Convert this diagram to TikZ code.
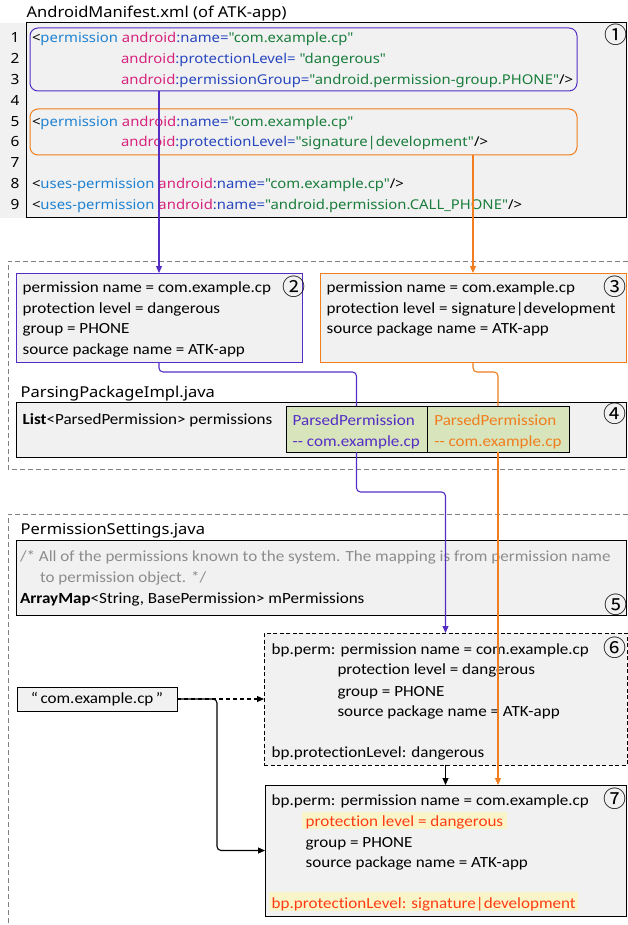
\documentclass[tikz,border=0pt]{standalone}
\usepackage{fontspec}
\setmainfont{Carlito}[FakeStretch=1.1, Ligatures=NoCommon]
\newfontfamily\codef{Noto Sans}[FakeStretch=1.1]
\newfontfamily\symf{Noto Sans CJK JP}
\usetikzlibrary{arrows.meta}
\definecolor{purp}{RGB}{84,46,196}
\definecolor{orng}{RGB}{240,125,30}
\definecolor{kwblue}{RGB}{30,130,210}
\definecolor{attrblue}{RGB}{40,70,190}
\definecolor{andmag}{RGB}{215,35,125}
\definecolor{valgreen}{RGB}{25,125,60}
\definecolor{redtxt}{RGB}{255,60,20}
\definecolor{hl}{RGB}{250,245,200}
\definecolor{greenfill}{RGB}{216,228,188}
\definecolor{boxgray}{RGB}{241,241,241}
\definecolor{dashgray}{RGB}{128,128,128}
\definecolor{cmtgray}{RGB}{140,140,140}
\newcommand\kwc[1]{\textcolor{kwblue}{#1}}
\newcommand\anc[1]{\textcolor{andmag}{#1}}
\newcommand\atc[1]{\textcolor{attrblue}{#1}}
\newcommand\vlc[1]{\textcolor{valgreen}{#1}}
\begin{document}
\begin{tikzpicture}[x=1pt,y=-1pt,
  font=\fontsize{15.5}{19}\selectfont,
  t/.style={anchor=base west, inner sep=0pt, outer sep=0pt},
  code/.style={t, font=\codef\fontsize{13.5}{16}\selectfont},
  lnum/.style={anchor=base, inner sep=0pt, font=\codef\bfseries\fontsize{14}{16}\selectfont},
  title/.style={t, font=\codef\fontsize{15}{18}\selectfont},
  circ/.style={anchor=center, inner sep=0pt, font=\symf\fontsize{23}{23}\selectfont},
  box/.style={draw=black, fill=boxgray, line width=1pt, inner sep=0pt, outer sep=0pt, anchor=north west},
  rbox/.style={draw, line width=1pt, rounded corners=8pt, inner sep=0pt, outer sep=0pt, anchor=north west},
  region/.style={draw=dashgray, line width=1pt, dash pattern=on 5pt off 3pt},
  conn/.style={line width=1.1pt},
  tip/.style={-{Triangle[length=7pt,width=6pt]}},
  hlt/.style={t, fill=hl}
]
\useasboundingbox (0,0) rectangle (628,925);

% ---------- manifest ----------
\node[title] (ttl1) at (26.7,17.5) {AndroidManifest.xml (of ATK-app)};
\node[box, draw=none, minimum width=26, minimum height=195] (lnbg) at (0,23) {};
\node[box, minimum width=600, minimum height=195] (code) at (26,23) {};
\node[rbox, draw=purp, minimum width=547, minimum height=63] (pblue) at (30,28) {};
\node[rbox, draw=orng, minimum width=547, minimum height=46] (porng) at (30,109) {};
\node[circ] (k1) at (615.5,35) {①};

\node[lnum] (n1) at (15,43) {1};
\node[lnum] (n2) at (15,63.8) {2};
\node[lnum] (n3) at (15,84.6) {3};
\node[lnum] (n4) at (15,105.4) {4};
\node[lnum] (n5) at (15,126.2) {5};
\node[lnum] (n6) at (15,147) {6};
\node[lnum] (n7) at (15,167.8) {7};
\node[lnum] (n8) at (15,188.6) {8};
\node[lnum] (n9) at (15,209.4) {9};

\node[code] (c1) at (32,43) {<\kwc{permission} \anc{android}\atc{:name=}\vlc{"com.example.cp"}};
\node[code] (c2) at (121,63.8) {\anc{android}\atc{:protectionLevel=} \vlc{"dangerous"}};
\node[code] (c3) at (121,84.6) {\anc{android}\atc{:permissionGroup=}\vlc{"android.permission-group.PHONE"}/>};
\node[code] (c5) at (32,126.2) {<\kwc{permission} \anc{android}\atc{:name=}\vlc{"com.example.cp"}};
\node[code] (c6) at (121,147) {\anc{android}\atc{:protectionLevel=}\vlc{"signature|development"}/>};
\node[code] (c8) at (32,188.6) {<\kwc{uses-permission} \anc{android}\atc{:name=}\vlc{"com.example.cp"}/>};
\node[code] (c9) at (32,209.4) {<\kwc{uses-permission} \anc{android}\atc{:name=}\vlc{"android.permission.CALL\_PHONE"}/>};

% ---------- parsing region ----------
\draw[region] (628,261) -- (8,261) -- (8,469) -- (628,469);
\node[box, draw=purp, minimum width=286, minimum height=89] (b2) at (16,273) {};
\node[box, draw=orng, minimum width=306, minimum height=89] (b3) at (320,273) {};
\node[circ] (k2) at (293.5,286.5) {②};
\node[circ] (k3) at (615,287) {③};
\node[t] (b2a) at (22.7,292.5) {permission name = com.example.cp};
\node[t] (b2b) at (22.7,313) {protection level = dangerous};
\node[t] (b2c) at (22.7,333.5) {group = PHONE};
\node[t] (b2d) at (22.7,354) {source package name = ATK-app};
\node[t] (b3a) at (326.7,292.5) {permission name = com.example.cp};
\node[t] (b3b) at (326.7,313) {protection level = signature|development};
\node[t] (b3c) at (326.7,333.5) {source package name = ATK-app};

\node[title] (ttl2) at (20.7,397) {ParsingPackageImpl.java};
\node[box, minimum width=610, minimum height=55] (b4) at (16,402) {};
\node[box, fill=greenfill, minimum width=141, minimum height=46] (g1) at (286,406) {};
\node[box, fill=greenfill, minimum width=142, minimum height=46] (g2) at (427,406) {};
\node[circ] (k4) at (615,414) {④};
\node[t] (b4a) at (22.7,424.5) {\textbf{List}<ParsedPermission> permissions};
\node[t, text=purp] (g1a) at (292.7,425) {ParsedPermission};
\node[t, text=purp] (g1b) at (292.7,446) {-{}- com.example.cp};
\node[t, text=orng] (g2a) at (434.3,425) {ParsedPermission};
\node[t, text=orng] (g2b) at (434.3,446) {-{}- com.example.cp};

% ---------- settings region ----------
\draw[region] (628,514) -- (8,514) -- (8,926);
\node[title] (ttl3) at (20.7,534) {PermissionSettings.java};
\node[box, minimum width=610, minimum height=75] (b5) at (16,540) {};
\node[circ] (k5) at (616,605) {⑤};
\node[t, text=cmtgray] (b5a) at (20,561) {/* All of the permissions known to the system. The mapping is from permission name};
\node[t, text=cmtgray] (b5b) at (40,582) {to permission object. */};
\node[t] (b5c) at (20,603) {\textbf{ArrayMap}<String, BasePermission> mPermissions};

\node[box, dash pattern=on 4pt off 2.5pt, minimum width=363, minimum height=132] (b6) at (264,633) {};
\node[circ] (k6) at (615,648) {⑥};
\node[t] (b6a) at (271.7,654) {bp.perm: permission name = com.example.cp};
\node[t] (b6b) at (337.5,674.5) {protection level = dangerous};
\node[t] (b6c) at (337.5,696) {group = PHONE};
\node[t] (b6d) at (337.5,716.5) {source package name = ATK-app};
\node[t] (b6e) at (271.7,757) {bp.protectionLevel: dangerous};

\node[box, minimum width=361, minimum height=131] (b7) at (265,785) {};
\node[circ] (k7) at (615,798.5) {⑦};
\node[t] (b7a) at (271.7,805.5) {bp.perm: permission name = com.example.cp};
\node[hlt, text=redtxt, inner xsep=3.7pt, text height=14.8pt, text depth=2.5pt] (b7b) at (302,826.5) {protection level = dangerous};
\node[t] (b7c) at (305.7,847) {group = PHONE};
\node[t] (b7d) at (305.7,867.5) {source package name = ATK-app};
\node[hlt, text=redtxt, inner xsep=2.7pt, text height=16.3pt, text depth=2.7pt] (b7e) at (269,908) {bp.protectionLevel: signature|development};

\node[box, minimum width=160, minimum height=24] (str) at (17,687) {};
\node[anchor=center, inner sep=0pt] (strt) at (str.center) {“\,com.example.cp\,”};

% ---------- connectors ----------
\draw[conn, purp, tip] (pblue.south -| b2.north) -- (b2.north);
\draw[conn, orng, tip] (porng.south -| b3.north) -- (b3.north);
\draw[conn, purp, rounded corners=4pt] (b2.south) -- ++(0,10) -| (g1.north);
\draw[conn, orng, rounded corners=4pt] (b3.south) -- ++(0,10) -| (g2.north);
\draw[conn, purp, rounded corners=4pt, tip] (g1.south) -- ++(0,40) -| (b6.north);
\draw[conn, orng, tip] (g2.south) -- (g2.south |- b7.north);
\draw[conn, black, tip] (b6.south) -- (b7.north);
\draw[conn, black, dash pattern=on 4pt off 3pt, tip] (str.east) -- (str.east -| b6.west);
\draw[conn, black, rounded corners=4pt, tip] (str.east) -- ++(40,0) |- (b7.west);
\end{tikzpicture}
\end{document}
